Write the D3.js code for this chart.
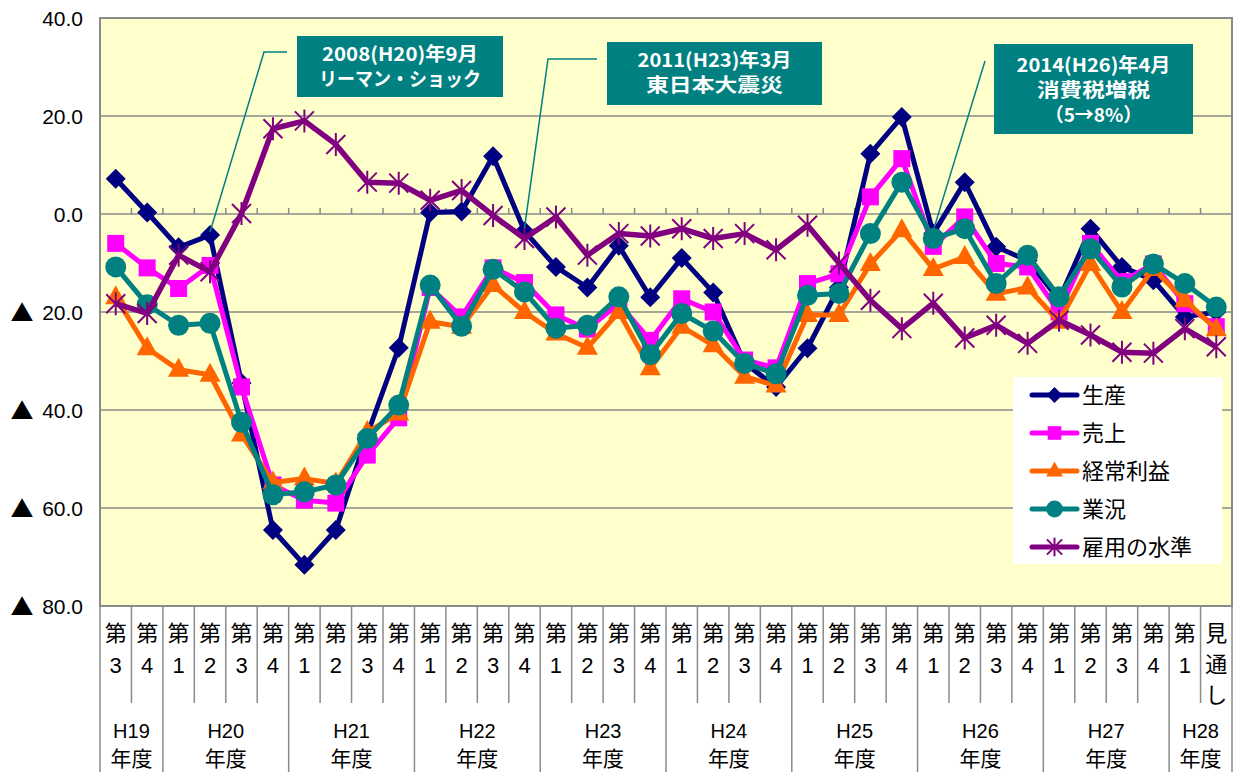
<!DOCTYPE html>
<html><head><meta charset="utf-8">
<script src="https://cdn.jsdelivr.net/npm/d3@7"></script>
<style>body{margin:0;background:#fff;} svg{display:block;}</style>
</head><body><svg id="c" width="1236" height="772"></svg>
<script>
// ---------- DATA ----------
const quarterLabels = ["3","4","1","2","3","4","1","2","3","4","1","2","3","4","1","2","3","4",
  "1","2","3","4","1","2","3","4","1","2","3","4","1","2","3","4","1","見通し"];
const fiscalYears = ["H19","H20","H21","H22","H23","H24","H25","H26","H27","H28"];
const quartersPerYear = [2,4,4,4,4,4,4,4,4,2];
const yTickValues = [40,20,0,-20,-40,-60,-80];
const seriesNames = ["生産","売上","経常利益","業況","雇用の水準"];

const production = [7.2,0.3,-6.8,-4.3,-34.5,-64.5,-71.6,-64.5,-45,-27.3,
  0.3,0.5,11.8,-3.5,-10.8,-15,-6.5,-17,-9,-16,
  -30.4,-35.3,-27.4,-15,12.3,19.8,-4,6.5,-6.7,-9.5,
  -17.5,-3,-10.8,-13.5,-21,-20];
const sales = [-6,-11,-15.2,-10.5,-35.3,-55.3,-58.4,-59,-49.2,-41.6,
  -15,-21,-11,-14,-20.6,-23.5,-18.3,-25.8,-17.3,-20,
  -29.8,-31.4,-14.2,-12.2,3.5,11.3,-6.6,-0.6,-10.1,-10.8,
  -20,-6,-13.8,-10.2,-18.3,-23];
const profit = [-17,-27.4,-31.8,-32.8,-45,-54.8,-54,-55,-44.5,-40.7,
  -22,-23,-14.5,-20,-24.4,-27.3,-20,-31.5,-23,-26.8,
  -33.2,-35,-20.6,-20.6,-10.2,-3.3,-11.2,-8.8,-16.3,-15,
  -22,-10.2,-20,-11.2,-17.6,-23.5];
const business = [-10.8,-18.5,-22.7,-22.3,-42.5,-57.3,-56.7,-55.3,-45.8,-39,
  -14.5,-22.9,-11.3,-15.9,-23.3,-22.7,-16.9,-28.7,-20.3,-23.9,
  -30.5,-32.6,-16.6,-16.2,-4,6.5,-5,-3,-14.2,-8.4,
  -16.9,-7.1,-14.9,-10.2,-14.2,-19];
const employment = [-18.3,-20.3,-8.4,-11.8,0.1,17.4,19,14.2,6.5,6.3,
  2.8,4.8,-0.3,-5,-0.6,-8.4,-4,-4.5,-3,-5,
  -4,-7.3,-2.3,-10,-17.6,-23.4,-18.2,-25.3,-22.7,-26.4,
  -21.7,-24.7,-28.2,-28.4,-23.4,-27.1];

const annotationLines = [
  ["2008(H20)年9月","リーマン・ショック"],
  ["2011(H23)年3月","東日本大震災"],
  ["2014(H26)年4月","消費税増税","（5→8%）"]
];
const annotationTargets = [3,13,26]; // category index the leader points to

// ---------- LAYOUT / STYLE ----------
const L=100,R=1232,T=18,B=606;
const colors = ["#000080","#FF00FF","#FF6600","#008080","#800080"];
const shapes = ["diamond","square","triangle","circle","asterisk"];
const allSeries = [production,sales,profit,business,employment];

const svg = d3.select("#c");
const x = d3.scaleBand().domain(d3.range(quarterLabels.length)).range([L,R]).paddingInner(0).paddingOuter(0);
const cx = i => x(i)+x.bandwidth()/2;
const y = d3.scaleLinear().domain([-80,40]).range([B,T]);

svg.append("rect").attr("x",0).attr("y",0).attr("width",1236).attr("height",772).attr("fill","#fff");
svg.append("rect").attr("x",L).attr("y",T).attr("width",R-L).attr("height",B-T).attr("fill","#FFFFCC");

// gridlines
svg.append("g").selectAll("line").data(yTickValues.filter(v=>v<40&&v>-80)).join("line")
  .attr("x1",L).attr("x2",R).attr("y1",d=>y(d)).attr("y2",d=>y(d))
  .attr("stroke","#8a8a8a").attr("stroke-width",1.5);

// ticks on zero line
svg.append("g").selectAll("line").data(d3.range(1,quarterLabels.length)).join("line")
  .attr("x1",d=>x(d)).attr("x2",d=>x(d)).attr("y1",y(0)-6).attr("y2",y(0))
  .attr("stroke","#8a8a8a").attr("stroke-width",1.5);

// y axis
const yAxis = d3.axisLeft(y).tickValues(yTickValues).tickSize(0).tickPadding(17).tickFormat(d=>d<0?(-d).toFixed(1):d.toFixed(1));
const yg = svg.append("g").attr("transform",`translate(${L},0)`).call(yAxis);
yg.select(".domain").remove();
yg.selectAll("text").attr("font-family","'Liberation Sans',Arial,sans-serif").attr("font-size",21).attr("fill","#000")
  .attr("dy","0.36em");
yg.selectAll(".tick").each(function(d){
  if(d<0){
    d3.select(this).append("text").attr("x",-78).attr("y",0).attr("dy","0.36em")
      .attr("font-family","'Noto Sans CJK JP',sans-serif").attr("font-size",23).attr("fill","#000")
      .attr("text-anchor","middle").text("▲");
  }
});

// plot border
svg.append("rect").attr("x",L).attr("y",T).attr("width",R-L).attr("height",B-T)
  .attr("fill","none").attr("stroke","#8a8a8a").attr("stroke-width",2);

// x category separators
const yearStarts = []; { let s=0; quartersPerYear.forEach(n=>{yearStarts.push(s); s+=n;}); yearStarts.push(s); }
svg.append("g").selectAll("line").data(d3.range(0,quarterLabels.length+1)).join("line")
  .attr("x1",d=>d===quarterLabels.length?R:x(d)).attr("x2",d=>d===quarterLabels.length?R:x(d))
  .attr("y1",B).attr("y2",d=>yearStarts.includes(d)?772:703)
  .attr("stroke","#8a8a8a").attr("stroke-width",1.5);

// quarter labels
const ql = svg.append("g").attr("font-size",22).attr("text-anchor","middle").attr("fill","#000");
quarterLabels.forEach((q,i)=>{
  if(q.length>1){
    [...q].forEach((ch,k)=>{
      ql.append("text").attr("x",cx(i)).attr("y",633+k*31).attr("dy","0.36em")
        .attr("font-family","'Noto Sans CJK JP',sans-serif").text(ch);
    });
  } else {
    ql.append("text").attr("x",cx(i)).attr("y",633).attr("dy","0.36em")
      .attr("font-family","'Noto Sans CJK JP',sans-serif").text("第");
    ql.append("text").attr("x",cx(i)).attr("y",665).attr("dy","0.36em")
      .attr("font-family","'Liberation Sans',sans-serif").text(q);
  }
});
// year labels
fiscalYears.forEach((fy,k)=>{
  const a = yearStarts[k], b = yearStarts[k+1];
  const mid = (x(a) + (b===quarterLabels.length?R:x(b)))/2;
  ql.append("text").attr("x",mid).attr("y",731).attr("dy","0.36em").attr("font-size",20)
    .attr("font-family","'Liberation Sans',sans-serif").text(fy);
  ql.append("text").attr("x",mid).attr("y",759).attr("dy","0.34em").attr("font-size",21)
    .attr("font-family","'Noto Sans CJK JP',sans-serif").text("年度");
});

// markers
function drawMarker(g, shape, color, px, py, s){
  s = s||1;
  if(shape==="diamond") g.append("path").attr("d",`M${px},${py-10*s}L${px+10*s},${py}L${px},${py+10*s}L${px-10*s},${py}Z`).attr("fill",color);
  else if(shape==="square") g.append("rect").attr("x",px-8.5*s).attr("y",py-8.5*s).attr("width",17*s).attr("height",17*s).attr("fill",color);
  else if(shape==="triangle") g.append("path").attr("d",`M${px},${py-12*s}L${px+10.5*s},${py+7*s}L${px-10.5*s},${py+7*s}Z`).attr("fill",color);
  else if(shape==="circle") g.append("circle").attr("cx",px).attr("cy",py).attr("r",10.5*s).attr("fill",color);
  else if(shape==="asterisk") g.append("path").attr("d",
      `M${px-9.5*s},${py-9.5*s}L${px+9.5*s},${py+9.5*s}M${px+9.5*s},${py-9.5*s}L${px-9.5*s},${py+9.5*s}M${px},${py-11.5*s}L${px},${py+11.5*s}`)
      .attr("stroke",color).attr("stroke-width",2).attr("fill","none");
}

const boxes = [
  {x:297,y:36,w:206,h:61,lx:287,ly:52,bend:264},
  {x:607,y:42,w:215,h:63,lx:597,ly:59,bend:548},
  {x:994,y:44,w:199,h:90,lx:985,ly:61,bend:null}
];
const lineWidths = [[156,162],[154,137],[154,113,null]];

const line = d3.line().x((d,i)=>cx(i)).y(d=>y(d));
allSeries.forEach((data,si)=>{
  const g = svg.append("g");
  g.append("path").attr("d",line(data)).attr("fill","none").attr("stroke",colors[si])
    .attr("stroke-width",si===4?5.5:5).attr("stroke-linejoin","round");
  data.forEach((v,i)=>drawMarker(g,shapes[si],colors[si],cx(i),y(v)));
});

// annotations
boxes.forEach((b,k)=>{
  const ti = annotationTargets[k];
  const tx = cx(ti), ty = y(production[ti])-3;
  const pts = b.bend===null ? [[b.lx,b.ly],[tx,ty]] : [[b.lx,b.ly],[b.bend,b.ly],[tx,ty]];
  svg.append("path").attr("d",d3.line()(pts)).attr("fill","none").attr("stroke","#008080").attr("stroke-width",1.5);
  svg.append("rect").attr("x",b.x).attr("y",b.y).attr("width",b.w).attr("height",b.h).attr("fill","#008080");
  const lines = annotationLines[k];
  const startY = b.y + (lines.length===3?21:18);
  lines.forEach((t,j)=>{
    const tt = svg.append("text").attr("x",b.x+b.w/2).attr("y",startY+j*25).attr("dy","0.36em")
      .attr("text-anchor","middle").attr("font-family","'Noto Sans CJK JP',sans-serif")
      .attr("font-weight","bold").attr("font-size",19).attr("fill","#fff").text(t);
    if(lineWidths[k][j]) tt.attr("textLength",lineWidths[k][j]).attr("lengthAdjust","spacingAndGlyphs");
  });
});

// legend
const lg = svg.append("g");
lg.append("rect").attr("x",1013).attr("y",377).attr("width",209).attr("height",187).attr("fill","#fff");
seriesNames.forEach((n,i)=>{
  const ly = 395 + i*38;
  lg.append("line").attr("x1",1032).attr("x2",1077).attr("y1",ly).attr("y2",ly)
    .attr("stroke",colors[i]).attr("stroke-width",5).attr("stroke-linecap","round");
  drawMarker(lg,shapes[i],colors[i],1054.5,ly,0.8);
  lg.append("text").attr("x",1082).attr("y",ly).attr("dy","0.36em")
    .attr("font-family","'Noto Sans CJK JP',sans-serif").attr("font-size",22).attr("fill","#000").text(n);
});
</script>
</body></html>
